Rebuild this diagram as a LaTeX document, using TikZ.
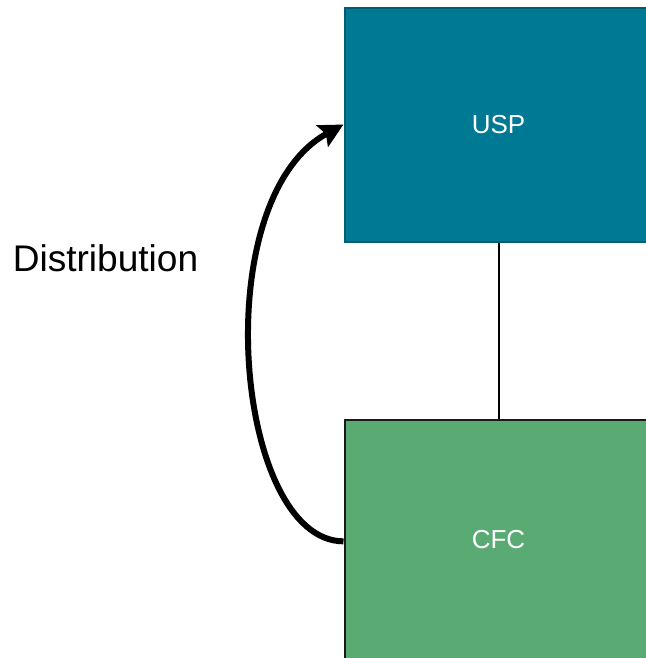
\documentclass[tikz,border=0pt]{standalone}
\usepackage{fontspec}
\setmainfont{Liberation Sans}
\usetikzlibrary{arrows.meta}
\definecolor{uspfill}{HTML}{007A94}
\definecolor{uspline}{HTML}{005E70}
\definecolor{cfcfill}{HTML}{5AAA74}
\definecolor{cfcline}{HTML}{1A1A1A}
\tikzset{
  block/.style={rectangle, minimum width=308*0.75pt, minimum height=234*0.75pt,
    inner sep=0pt, line width=1.5pt, text=white, font=\fontsize{19.5pt}{22pt}\selectfont},
  link/.style={line width=1.5pt, draw=black},
  flow/.style={line width=4.5pt, -{Stealth[length=18pt, width=18pt, inset=3pt]}},
}
\begin{document}
\begin{tikzpicture}[x=0.75pt, y=-0.75pt]
  \useasboundingbox (0,0) rectangle (646,658);
  \begin{scope}
    \clip (0,0) rectangle (646,658);
    \node[block, fill=uspfill, draw=uspline] (usp) at (498.5,124.5) {USP};
    \node[block, fill=cfcfill, draw=cfcline, minimum height=240*0.75pt] (cfc) at (498.5,540) {CFC};
    \draw[link] (usp.south) -- (cfc.north);
    \draw[flow] ([yshift=-1pt]cfc.west) .. controls (235,541) and (205,200) .. (usp.west);
  \end{scope}
  \node[font=\fontsize{27.8pt}{31pt}\selectfont, anchor=center] (dist) at (105.5,258) {Distribution};
\end{tikzpicture}
\end{document}
